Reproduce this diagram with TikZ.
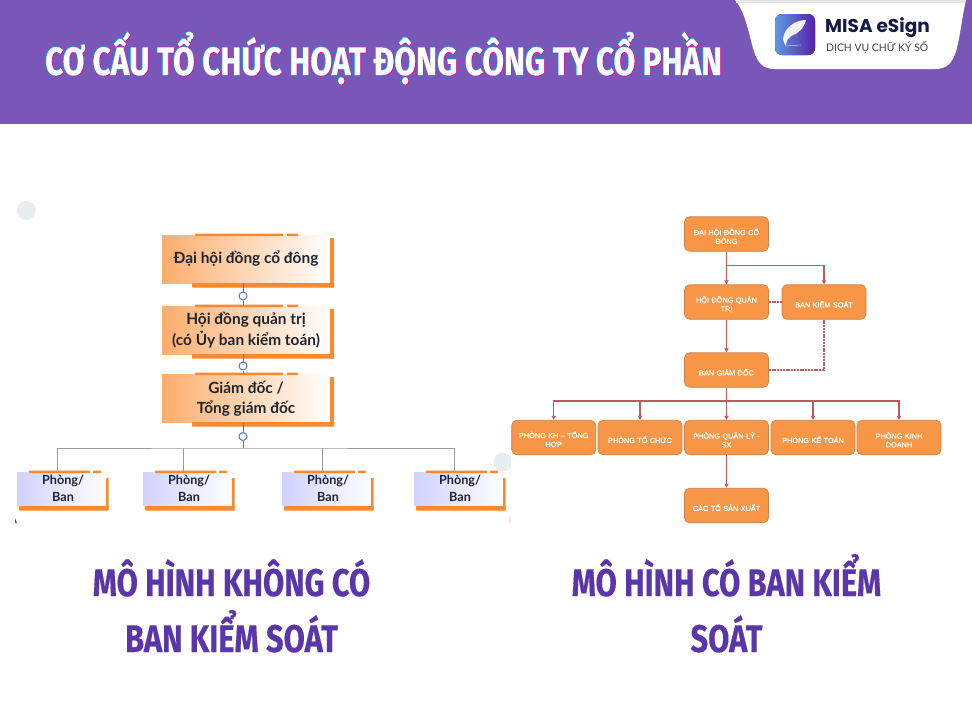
\documentclass[tikz,border=0pt]{standalone}
\usepackage{fontspec}
\setmainfont{Lato}
\newfontfamily\headfont[FakeStretch=0.8,FakeBold=0.4]{Fira Sans}
\newfontfamily\labelfont[FakeBold=0.5]{Liberation Sans}
\newfontfamily\brandfont{Poppins}
\usetikzlibrary{arrows.meta}

\definecolor{headpurple}{HTML}{7957B8}
\definecolor{captionpurple}{HTML}{5B36A8}
\definecolor{barorange}{HTML}{FB8A2E}
\definecolor{boxorange}{HTML}{F79646}
\definecolor{boxedge}{HTML}{CF8146}
\definecolor{linkred}{HTML}{C8545E}
\definecolor{linkblue}{HTML}{4C76D2}
\definecolor{inkdark}{HTML}{20242E}
\definecolor{palemark}{HTML}{E8EDF1}
\definecolor{brandink}{HTML}{141A46}
\definecolor{logoleft}{HTML}{5B9BE0}
\definecolor{logoright}{HTML}{5A1FA8}

\tikzset{
  title/.style={text=white,inner sep=0pt,font=\headfont\bfseries\fontsize{39.4}{39.4}\selectfont},
  caption/.style={text=captionpurple,font=\headfont\bfseries\fontsize{38.5}{38.5}\selectfont},
  orgbox/.style={minimum width=168pt,minimum height=48pt,inner sep=0pt,align=center,text=inkdark,
    font=\bfseries\fontsize{15.4}{20.5}\selectfont},
  roombox/.style={minimum width=92pt,minimum height=33pt,inner sep=0pt,align=center,text=inkdark,
    font=\bfseries\fontsize{12.6}{17.5}\selectfont},
  flowbox/.style={draw=boxedge,fill=boxorange,rounded corners=5pt,line width=0.7pt,minimum width=84pt,
    minimum height=34.5pt,inner sep=1pt,text width=80pt,align=center,text=white,
    font=\labelfont\fontsize{7.3}{8.8}\selectfont,execute at begin node={\rule{0pt}{11pt}}},
  knob/.style={circle,draw=linkblue,fill=white,line width=1pt,minimum size=8pt,inner sep=0pt},
  bar/.style={fill=barorange,rounded corners=0.6pt}
}

\begin{document}
\begin{tikzpicture}[x=1pt,y=-1pt]

  \useasboundingbox (0,0) rectangle (972,705);
  \fill[white] (0,0) rectangle (972,705);

  % header band and logo tab
  \fill[headpurple] (0,0) rectangle (972,124);
  \fill[white] (735,0) .. controls (745,12) and (748,30) .. (753,48)
    .. controls (757,63) and (763,69) .. (775,69) -- (935,69)
    .. controls (947,69) and (953,63) .. (957,48)
    .. controls (961,30) and (963,12) .. (966,0) -- cycle;
  \fill[black!10] (736,0) rectangle (965,3);
  \fill[rounded corners=7pt,left color=logoleft,right color=logoright]
    (775,14) rectangle (815,55);
  \fill[white,opacity=0.92] (806,20) .. controls (795,20) and (784,28) .. (783,39)
    .. controls (783,42) and (785,44) .. (786,46)
    .. controls (786,41) and (788,38) .. (791,36)
    .. controls (798,34) and (804,28) .. (806,20) -- cycle;
  \draw[white,opacity=0.7,line width=0.5pt] (786,46) -- (801,45);

  \node[title,text=cyan,anchor=base west] at (44.4,74.4) {CƠ CẤU TỔ CHỨC HOẠT ĐỘNG CÔNG TY CỔ PHẦN};
  \node[title,text=magenta,anchor=base west] at (45.6,75.6) {CƠ CẤU TỔ CHỨC HOẠT ĐỘNG CÔNG TY CỔ PHẦN};
  \node[title,anchor=base west] (head) at (45,75) {CƠ CẤU TỔ CHỨC HOẠT ĐỘNG CÔNG TY CỔ PHẦN};
  \node[anchor=west,inner sep=0pt,text=brandink,font=\brandfont\bfseries\fontsize{18.5}{18.5}\selectfont]
    (brand) at (825,28) {MISA eSign};
  \node[anchor=west,inner sep=0pt,text=black!75,font=\fontsize{10.4}{10.4}\selectfont]
    (tagline) at (826,47) {DỊCH VỤ CHỮ KÝ SỐ};

  % left model, pale marks behind the picture
  \fill[palemark] (26.5,210.5) circle (9.5);
  \begin{scope}
    \clip (490,450) rectangle (511,480);
    \fill[palemark] (503,462) circle (9.5);
  \end{scope}
  \fill[blue!40!black!70] (15,518) -- (17,523) -- (15,523) -- cycle;
  \fill[magenta!12] (511,515) -- (511,523) -- (507.5,523) -- cycle;

  \begin{scope}[every node/.style={orgbox,left color=barorange!70!white,right color=white}]
    \node (dh) at (246,259) {Đại hội đồng cổ đông};
    \node (hd) at (246,330) {Hội đồng quản trị\\(có Ủy ban kiểm toán)};
    \node (gd) at (246,398.5) {Giám đốc /\\Tổng giám đốc};
  \end{scope}

  \begin{scope}[every node/.style={roombox,left color=blue!18!white,right color=white}]
    \node (p1) at (63,488.5) {Phòng/\\Ban};
    \node (p2) at (189,488.5) {Phòng/\\Ban};
    \node (p3) at (328,488.5) {Phòng/\\Ban};
    \node (p4) at (460,488.5) {Phòng/\\Ban};
  \end{scope}

  \foreach \ypos in {235,306,374} {
    \fill[bar] (195,\ypos-1.5) rectangle (283,\ypos+1);
    \fill[bar] (287,\ypos-1.5) rectangle (298,\ypos+1);
    \fill[bar] (192,\ypos+48) rectangle (334,\ypos+52.5);
    \fill[bar] (330,\ypos+3) rectangle (334,\ypos+52.5);
  }
  \foreach \xpos in {17,143,282,414} {
    \fill[bar] (\xpos+12,470.5) rectangle (\xpos+73,473);
    \fill[bar] (\xpos+76,470.5) rectangle (\xpos+84,473);
    \fill[bar] (\xpos+2,506) rectangle (\xpos+91.5,510.5);
    \fill[bar] (\xpos+89,478) rectangle (\xpos+91.5,510.5);
    \fill[white] (\xpos+91.5,471) rectangle (\xpos+93,506);
  }

  \node[knob] (k1) at (243,296) {};
  \node[knob] (k2) at (243,366) {};
  \node[knob] (k3) at (243,436.5) {};
  \coordinate (busl) at (243,448);
  \coordinate (d1) at (57,471);
  \coordinate (d2) at (183,471);
  \coordinate (d3) at (322,471);
  \coordinate (d4) at (454,471);
  \begin{scope}[line width=1pt]
    \draw[black!40] (d1) |- (busl) -| (d4);
    \draw[black!40] (d2 |- busl) -- (d2);
    \draw[black!40] (d3 |- busl) -- (d3);
    \draw[linkblue] (k1 |- dh.south) -- (k1);
    \draw[linkblue] (k1) -- (k1 |- hd.north);
    \draw[linkblue] (k2 |- hd.south) -- (k2);
    \draw[linkblue] (k2) -- (k2 |- gd.north);
    \draw[linkblue] (k3 |- gd.south) -- (k3);
    \draw[linkblue] (k3) -- (busl);
  \end{scope}

  % right model
  \begin{scope}[every node/.style={flowbox}]
    \node (dhcd) at (726.5,234) {ĐẠI HỘI ĐỒNG CỔ\\ĐÔNG};
    \node (hdqt) at (726.5,302) {HỘI ĐỒNG QUẢN\\TRỊ};
    \node (bks)  at (824,302)   {BAN KIỂM SOÁT};
    \node (bgd)  at (726.5,370) {BAN GIÁM ĐỐC};
    \node (pkh)  at (553.7,437.5) {PHÒNG KH – TỔNG\\HỢP};
    \node (ptc)  at (640,437.5) {PHÒNG TỔ CHỨC};
    \node (pql)  at (726.5,437.5) {PHÒNG QUẢN LÝ -\\SX};
    \node (pkt)  at (813,437.5) {PHÒNG KẾ TOÁN};
    \node (pkd)  at (899,437.5) {PHÒNG KINH\\DOANH};
    \node (cto)  at (726.5,505.5) {CÁC TỔ SẢN XUẤT};
  \end{scope}

  \coordinate (busa) at (726.5,265.5);
  \coordinate (busb) at (726.5,401);

  \begin{scope}[every edge/.style={draw=linkred,line width=1.3pt,-{Latex[length=4pt,width=5pt]}}]
    \path (dhcd) edge (hdqt);
    \path (hdqt) edge (bgd);
    \path (bgd)  edge (pql);
    \path (pql)  edge (cto);
    \path (busa) edge[to path={-| (\tikztotarget)}] (bks);
    \path (busb) edge[to path={-| (\tikztotarget)}] (pkh);
    \path (busb) edge[to path={-| (\tikztotarget)}] (ptc);
    \path (busb) edge[to path={-| (\tikztotarget)}] (pkt);
    \path (busb) edge[to path={-| (\tikztotarget)}] (pkd);
  \end{scope}

  \begin{scope}[every edge/.style={draw=linkred,line width=1.3pt,dash pattern=on 2pt off 0.8pt}]
    \path (hdqt) edge (bks);
    \path (bks)  edge[to path={|- (\tikztotarget)}] (bgd);
  \end{scope}

  % captions
  \node[caption,anchor=base] (c1) at (231.5,596) {MÔ HÌNH KHÔNG CÓ};
  \node[caption,anchor=base] (c2) at (231.5,652) {BAN KIỂM SOÁT};
  \node[caption,anchor=base] (c3) at (726.5,596) {MÔ HÌNH CÓ BAN KIỂM};
  \node[caption,anchor=base] (c4) at (726.5,652) {SOÁT};

\end{tikzpicture}
\end{document}
